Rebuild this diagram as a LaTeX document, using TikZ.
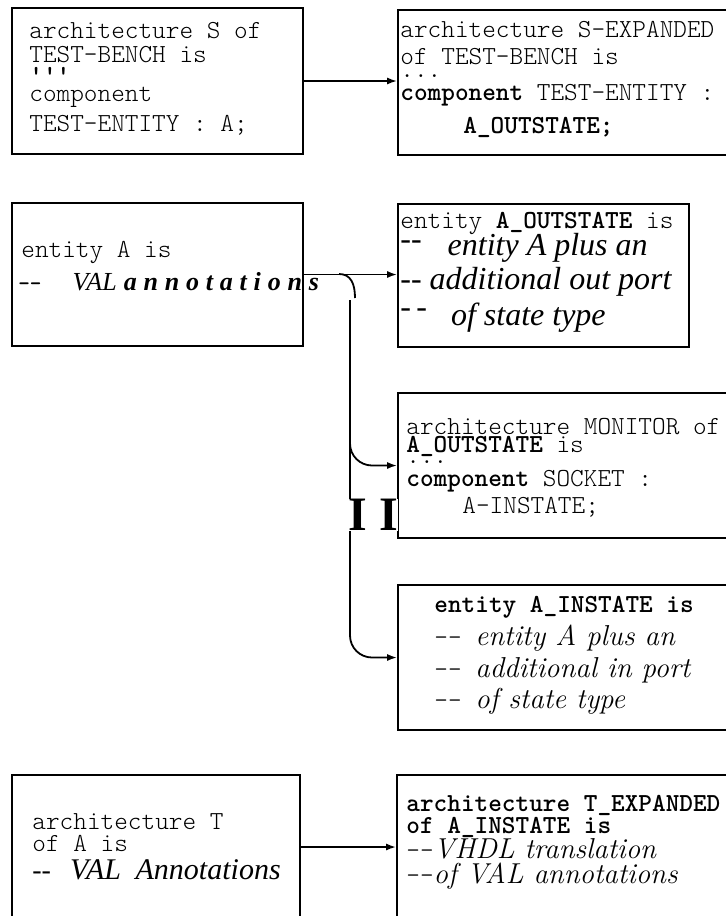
\documentclass[tikz,border=0pt]{standalone}
\usepackage{fontspec}
\newfontfamily\timesf{Liberation Serif}
\usetikzlibrary{arrows.meta}
\newcommand\fs[1]{\fontsize{#1}{#1}\selectfont}
\newcommand\tlight{\ttfamily\fontseries{l}\selectfont}
\newcommand\tbold{\ttfamily\bfseries}
\newcommand\tit{\timesf\mdseries\itshape}
\newcommand\cmit{\rmfamily\mdseries\itshape}
\newcommand\ls{\kern3.4pt}
\begin{document}
\begin{tikzpicture}[x=0.5pt, y=-0.5pt,
    box/.style={draw, line width=1pt, inner sep=0pt, anchor=north west},
    code/.style={anchor=base west, inner sep=0pt, font=\tlight\fs{13}},
    wire/.style={line width=0.9pt},
    arrow/.style={wire, -{Latex[length=5pt,width=3.6pt]}},
    bigI/.style={inner sep=0pt, fill=white, font=\timesf\bfseries\fs{24}}
]
\useasboundingbox (0,0) rectangle (726,916);
\clip (0,0) rectangle (726,916);

% boxes
\node[box, minimum width=145.5pt, minimum height=73pt] (S) at (11,7) {};
\node[box, minimum width=171.5pt, minimum height=72.5pt] (SX) at (397,9) {};
\node[box, minimum width=145.5pt, minimum height=71.5pt] (A) at (11,202) {};
\node[box, minimum width=145.5pt, minimum height=71.5pt] (AO) at (397,203) {};
\node[box, minimum width=171.5pt, minimum height=72.5pt] (MON) at (397,392) {};
\node[box, minimum width=171.5pt, minimum height=72.5pt] (INS) at (397,584) {};
\node[box, minimum width=144pt, minimum height=72pt] (T) at (11,774) {};
\node[box, minimum width=172pt, minimum height=72pt] (TX) at (396,774) {};

% architecture S
\node[code] (s1) at (29,38) {architecture S of};
\node[code] (s2) at (29,62) {TEST-BENCH is};
\node[code, font=\tbold\fs{13}] (s3) at (29,83) {'{}'{}'};
\node[code] (s4) at (29,101) {component};
\node[code] (s5) at (29,131) {TEST-ENTITY : A;};

% architecture S-EXPANDED
\node[code] (x1) at (400,37) {architecture S-EXPANDED};
\node[code] (x2) at (400,64) {of TEST-BENCH is};
\node[code] (x3) at (400,77) {...};
\node[code] (x4) at (400,100) {{\tbold component} TEST-ENTITY :};
\node[code, font=\tbold\fs{13}] (x5) at (463,133) {A\_OUTSTATE;};

% entity A
\node[code] (a1) at (21,257) {entity A is};
\node[code] (a2) at (18,290) {{\tbold\fs{11}-{}-}\hspace{15.5pt}{\tit\fs{13}VAL}\hspace{3.5pt}{\timesf\bfseries\itshape\fs{13}a\ls n\ls n\ls o\ls t\ls a\ls t\ls i\ls o\ls n\ls s}};

% entity A_OUTSTATE
\node[code] (o1) at (400,228) {entity {\tbold A\_OUTSTATE} is};
\node[code, font=\timesf\mdseries\fs{16}] (o2) at (400,255) {\raisebox{3pt}{-{}-}\hspace{13pt}{\itshape entity A plus an}};
\node[code, font=\timesf\mdseries\fs{16}] (o3) at (400,289) {-{}-\hspace{4pt}{\itshape additional out port}};
\node[code, font=\timesf\mdseries\fs{16}] (o4) at (400,325) {\raisebox{4pt}{-\,-}\hspace{12pt}{\itshape of state type}};

% architecture MONITOR
\node[code] (m1) at (406,434) {architecture MONITOR of};
\node[code] (m2) at (406,452) {{\tbold A\_OUTSTATE} is};
\node[code] (m3) at (406,463) {...};
\node[code] (m4) at (406,486) {{\tbold component} SOCKET :};
\node[code] (m5) at (462,513) {A-INSTATE;};

% entity A_INSTATE
\node[code, font=\tbold\fs{13}] (n1) at (434,612) {entity A\_INSTATE is};
\node[code] (n2) at (434,645) {-{}- {\cmit\fs{14.4}entity A plus an}};
\node[code] (n3) at (434,677) {-{}- {\cmit\fs{14.4}additional in port}};
\node[code] (n4) at (434,708) {-{}- {\cmit\fs{14.4}of state type}};

% architecture T
\node[code] (t1) at (32,829) {architecture T};
\node[code] (t2) at (32,851) {of A is};
\node[code, font=\timesf\mdseries\fs{14}] (t3) at (32,879) {-{}-\hspace{9.5pt}{\tit\fs{15}VAL\hspace{3.5pt} Annotations}};

% architecture T_EXPANDED
\node[code, font=\tbold\fs{13}] (y1) at (406,811) {architecture T\_EXPANDED};
\node[code, font=\tbold\fs{13}] (y2) at (406,833) {of A\_INSTATE is};
\node[code] (y3) at (406,858) {-{}-{\cmit\fs{14.4}VHDL translation}};
\node[code] (y4) at (406,883) {-{}-{\cmit\fs{14.4}of VAL annotations}};

% connectors
\coordinate (hop) at (339,274);
\coordinate (drop) at (350,300);
\coordinate (fork) at (350,425);
\draw[arrow] (S.east) -- (S.east -| SX.west);
\draw[arrow] (A.east) -- (A.east -| AO.west);
\draw[wire] (hop) .. controls (351,274) and (355,284) .. (355,298);
\draw[arrow, rounded corners=11pt] (drop) |- (INS.west);
\draw[arrow, rounded corners=11pt] (fork) |- (MON.west);
\draw[arrow] (T.east |- TX.west) -- (TX.west);
\node[bigI] (gap) at (373.5,515) {I I};
\end{tikzpicture}
\end{document}
